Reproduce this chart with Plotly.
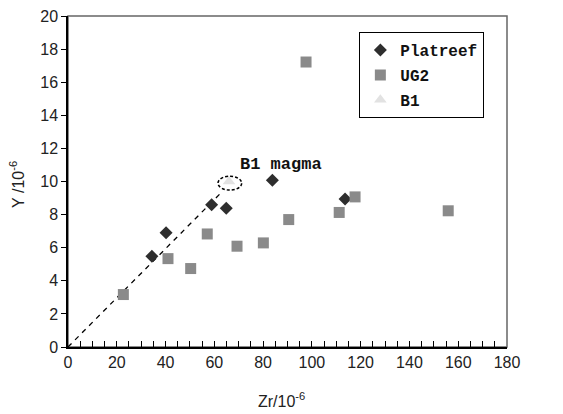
import plotly.graph_objects as go

# Data (Zr, Y in 10^-6)
platreef_zr = [34.4, 40.2, 58.9, 64.9, 83.8, 113.6]
platreef_y = [5.48, 6.9, 8.59, 8.39, 10.08, 8.95]

ug2_zr = [22.7, 41.0, 50.3, 57.1, 69.3, 80.1, 90.5, 97.6, 111.2, 117.7, 155.9]
ug2_y = [3.17, 5.34, 4.74, 6.83, 6.09, 6.29, 7.70, 17.22, 8.13, 9.07, 8.23]

b1_zr = [66.0]
b1_y = [10.0]

trend_zr = [0, 63.3]
trend_y = [0, 9.4]

x_ticks = [0, 20, 40, 60, 80, 100, 120, 140, 160, 180]
y_ticks = [0, 2, 4, 6, 8, 10, 12, 14, 16, 18, 20]

mono = "Liberation Mono"
sans = "Liberation Sans"

fig = go.Figure()
fig.add_trace(go.Scatter(x=trend_zr, y=trend_y, mode="lines",
                         line=dict(color="black", width=1.3, dash="5px,5px"),
                         showlegend=False, hoverinfo="skip"))
fig.add_trace(go.Scatter(x=platreef_zr, y=platreef_y, mode="markers", name="Platreef",
                         legendgroup="a",
                         marker=dict(symbol="diamond", size=10, color="#2e2e2e")))
fig.add_trace(go.Scatter(x=ug2_zr, y=ug2_y, mode="markers", name="UG2",
                         legendgroup="b",
                         marker=dict(symbol="square", size=11, color="#8a8a8a")))
fig.add_trace(go.Scatter(x=b1_zr, y=b1_y, mode="markers", name="B1",
                         legendgroup="c",
                         marker=dict(symbol="triangle-up", size=11, color="#e2e2e2")))

# ellipse around B1
fig.add_shape(type="circle", xref="x", yref="y", x0=61.5, x1=71.2, y0=9.48, y1=10.32,
              line=dict(color="black", width=1.5, dash="3px,2px"))

fig.add_annotation(x=69.7, y=11.05, xref="x", yref="y", text="B1 magma",
                   showarrow=False, xanchor="left", yanchor="middle",
                   font=dict(family=mono, size=17, color="#111", weight="bold"))

# axis titles
fig.add_annotation(x=0.487, y=-0.16, xref="paper", yref="paper", text="Zr/10<sup>-6</sup>",
                   showarrow=False, xanchor="center", yanchor="middle",
                   font=dict(family=sans, size=16, color="#222"))
fig.add_annotation(x=-0.116, y=0.49, xref="paper", yref="paper", text="Y /10<sup>-6</sup>",
                   showarrow=False, xanchor="center", yanchor="middle", textangle=-90,
                   font=dict(family=sans, size=16, color="#222"))

# frame (top/right gray)
fig.add_shape(type="rect", xref="paper", yref="paper", x0=0, x1=1, y0=0, y1=1,
              line=dict(color="#666", width=1.5), layer="below")

fig.update_layout(
    width=563, height=414,
    margin=dict(l=68, r=56, t=16, b=67),
    paper_bgcolor="white", plot_bgcolor="white",
    legend=dict(x=0.663, y=0.952, xanchor="left", yanchor="top",
                bordercolor="black", borderwidth=1.3, bgcolor="white",
                font=dict(family=mono, size=16, color="#111", weight="bold"),
                itemwidth=30, tracegroupgap=1, itemsizing="trace"),
    showlegend=True,
)
fig.update_xaxes(range=[0, 180], tickvals=x_ticks, showgrid=False, zeroline=False,
                 showline=True, linecolor="black", linewidth=1.5, automargin=False,
                 ticks="inside", ticklen=6, tickcolor="black",
                 minor=dict(dtick=5, ticks="inside", ticklen=6, tickcolor="black"),
                 tickfont=dict(family=sans, size=16, color="#222"))
fig.update_yaxes(range=[0, 20], tickvals=y_ticks, showgrid=False, zeroline=False,
                 showline=True, linecolor="black", linewidth=1.5, automargin=False,
                 ticks="outside", ticklen=5, tickcolor="black",
                 tickfont=dict(family=sans, size=16, color="#222"))

fig.write_html("out.html")
